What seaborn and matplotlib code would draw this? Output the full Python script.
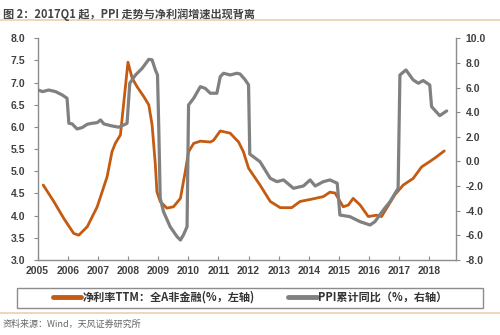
import matplotlib
matplotlib.use("Agg")
import matplotlib.pyplot as plt
from matplotlib.lines import Line2D
from matplotlib.patches import Rectangle
import seaborn as sns
import pandas as pd

# ---- data ----
margin_t = [2005.19, 2005.54, 2005.87, 2006.20, 2006.37, 2006.65, 2006.98, 2007.31, 2007.47, 2007.58,
            2007.75, 2008.00, 2008.14, 2008.30, 2008.52, 2008.69, 2008.80, 2008.91, 2008.96, 2009.07,
            2009.29, 2009.51, 2009.74, 2009.90, 2010.01, 2010.18, 2010.40, 2010.73, 2010.84, 2011.06,
            2011.39, 2011.67, 2011.83, 2012.00, 2012.38, 2012.72, 2013.05, 2013.43, 2013.71, 2014.15,
            2014.48, 2014.70, 2014.87, 2015.14, 2015.31, 2015.47, 2015.70, 2015.97, 2016.25, 2016.41,
            2016.58, 2016.85, 2017.13, 2017.46, 2017.74, 2018.01, 2018.24, 2018.49]
margin_v = [4.69, 4.32, 3.94, 3.60, 3.56, 3.75, 4.20, 4.88, 5.44, 5.63,
            5.82, 7.46, 7.10, 6.91, 6.69, 6.50, 6.05, 5.14, 4.54, 4.32,
            4.17, 4.20, 4.39, 4.99, 5.44, 5.63, 5.68, 5.66, 5.70, 5.91,
            5.86, 5.66, 5.44, 5.07, 4.69, 4.32, 4.18, 4.18, 4.32, 4.38,
            4.43, 4.53, 4.51, 4.20, 4.24, 4.39, 4.24, 3.98, 4.01, 3.98,
            4.17, 4.47, 4.69, 4.84, 5.10, 5.22, 5.33, 5.46]

ppi_t = [2005.02, 2005.17, 2005.37, 2005.60, 2005.82, 2005.98, 2006.04, 2006.15, 2006.31, 2006.48,
         2006.65, 2006.81, 2006.98, 2007.09, 2007.20, 2007.42, 2007.69, 2007.86, 2007.97, 2008.06,
         2008.25, 2008.47, 2008.69, 2008.80, 2008.91, 2008.98, 2009.02, 2009.07, 2009.18, 2009.40,
         2009.63, 2009.74, 2009.84, 2009.96, 2010.01, 2010.18, 2010.40, 2010.56, 2010.73, 2010.95,
         2011.06, 2011.17, 2011.39, 2011.61, 2011.72, 2011.89, 2012.00, 2012.04, 2012.38, 2012.72,
         2012.94, 2013.16, 2013.49, 2013.82, 2014.04, 2014.21, 2014.48, 2014.70, 2014.94, 2015.03,
         2015.36, 2015.70, 2016.03, 2016.19, 2016.47, 2016.69, 2016.96, 2017.02, 2017.22, 2017.46,
         2017.63, 2017.79, 2018.01, 2018.07, 2018.34, 2018.57]
ppi_v = [5.80, 5.67, 5.80, 5.67, 5.40, 5.13, 3.10, 3.05, 2.64, 2.75,
         3.02, 3.10, 3.15, 3.37, 3.05, 2.91, 2.78, 2.96, 3.10, 6.35,
         7.02, 7.56, 8.29, 8.25, 7.43, 7.02, 2.96, -2.99, -4.08, -5.30,
         -6.11, -6.38, -5.97, -5.30, 4.59, 5.13, 6.07, 5.94, 5.54, 5.54,
         6.88, 7.16, 7.02, 7.16, 7.10, 6.62, 6.21, 0.60, -0.02, -1.37,
         -1.64, -1.50, -2.18, -1.99, -1.50, -1.99, -1.64, -1.50, -1.77, -4.35,
         -4.48, -4.89, -5.16, -4.89, -3.94, -3.27, -2.18, 7.02, 7.43, 6.62,
         6.35, 6.57, 6.21, 4.45, 3.72, 4.10]

years = list(range(2005, 2019))
left_ticks = [3.0, 3.5, 4.0, 4.5, 5.0, 5.5, 6.0, 6.5, 7.0, 7.5, 8.0]
right_ticks = [-8.0, -6.0, -4.0, -2.0, 0.0, 2.0, 4.0, 6.0, 8.0, 10.0]

title = "图 2：2017Q1 起，PPI 走势与净利润增速出现背离"
label_margin = "净利率TTM：全A非金融(%，左轴)"
label_ppi = "PPI累计同比（%，右轴）"
source = "资料来源：Wind，天风证券研究所"

# ---- style ----
sns.set_style("white")
plt.rcParams['font.family'] = ['Noto Sans CJK SC', 'DejaVu Sans']

ORANGE = "#C55A11"
GRAY = "#808080"
AXC = "#8C8C8C"
TXT = "#404040"

df_m = pd.DataFrame({"t": margin_t, "v": margin_v})
df_p = pd.DataFrame({"t": ppi_t, "v": ppi_v})

fig = plt.figure(figsize=(5.0, 3.35), dpi=100)
ax = fig.add_axes([0.075, 0.2239, 0.8364, 0.6618])
ax2 = ax.twinx()

sns.lineplot(data=df_m, x="t", y="v", ax=ax, color=ORANGE, linewidth=2.0,
             estimator=None, sort=False, legend=False,
             solid_joinstyle='round', solid_capstyle='round')
sns.lineplot(data=df_p, x="t", y="v", ax=ax2, color=GRAY, linewidth=2.3,
             estimator=None, sort=False, legend=False,
             solid_joinstyle='round', solid_capstyle='round')

ax.set_xlim(2005.0, 2018.87)
ax.set_ylim(3.0, 8.0)
ax2.set_ylim(-8.0, 10.0)

ax.set_xticks(years)
ax.set_xticklabels([str(y) for y in years])
ax.set_yticks(left_ticks)
ax.set_yticklabels([f"{v:.1f}" for v in left_ticks])
ax2.set_yticks(right_ticks)
ax2.set_yticklabels([f"{v:.1f}" for v in right_ticks])

for a in (ax, ax2):
    a.set_xlabel("")
    a.set_ylabel("")
    a.spines['top'].set_visible(False)
    for s in ('left', 'right', 'bottom'):
        a.spines[s].set_color(AXC)
        a.spines[s].set_linewidth(1.0)
ax.spines['right'].set_visible(False)
ax2.spines['left'].set_visible(False)
ax2.spines['bottom'].set_visible(False)

tickfont = dict(family=['Liberation Sans', 'DejaVu Sans'], size=7.5)
ax.tick_params(axis='y', which='both', left=True, direction='out', length=3,
               color=AXC, pad=6, labelcolor=TXT)
ax.tick_params(axis='x', which='both', bottom=True, direction='in', length=3,
               color=AXC, pad=4, labelcolor=TXT)
ax2.tick_params(axis='y', which='both', right=True, direction='out', length=3,
                color=AXC, pad=4, labelcolor=TXT)
for lab in ax.get_xticklabels() + ax.get_yticklabels() + ax2.get_yticklabels():
    lab.set_fontfamily(tickfont['family'])
    lab.set_fontsize(tickfont['size'])
    lab.set_fontweight('bold')

# ---- title / rules / source ----
fig.text(0.006, 0.975, title, ha='left', va='top', fontsize=8, color="#444444",
         fontweight='bold')
fig.add_artist(Line2D([0, 1], [1 - 19.5 / 335, 1 - 19.5 / 335], transform=fig.transFigure,
                      color="#EBCFAE", linewidth=1.2))
fig.add_artist(Line2D([0, 1], [1 - 313 / 335, 1 - 313 / 335], transform=fig.transFigure,
                      color="#EBCFAE", linewidth=1.2))
fig.text(0.006, 1 - 324 / 335, source, ha='left', va='center', fontsize=6.5, color="#666666")

# ---- legend ----
fig.add_artist(Rectangle((17 / 500, 1 - 307.5 / 335), 466 / 500, 20 / 335,
                         transform=fig.transFigure, fill=False, edgecolor="#8C8C8C",
                         linewidth=1.0))
handles = [Line2D([], [], color=ORANGE, linewidth=3.5),
           Line2D([], [], color=GRAY, linewidth=3.5)]
leg = fig.legend(handles, [label_margin, label_ppi], loc='center',
                 bbox_to_anchor=(250 / 500, 1 - 297.5 / 335), ncol=2, frameon=False,
                 fontsize=8, handlelength=2.6, handletextpad=0.1, columnspacing=3.0,
                 borderpad=0.2)
for t in leg.get_texts():
    t.set_color("#333333")
    t.set_fontweight('bold')

fig.savefig("out.png", dpi=100)
